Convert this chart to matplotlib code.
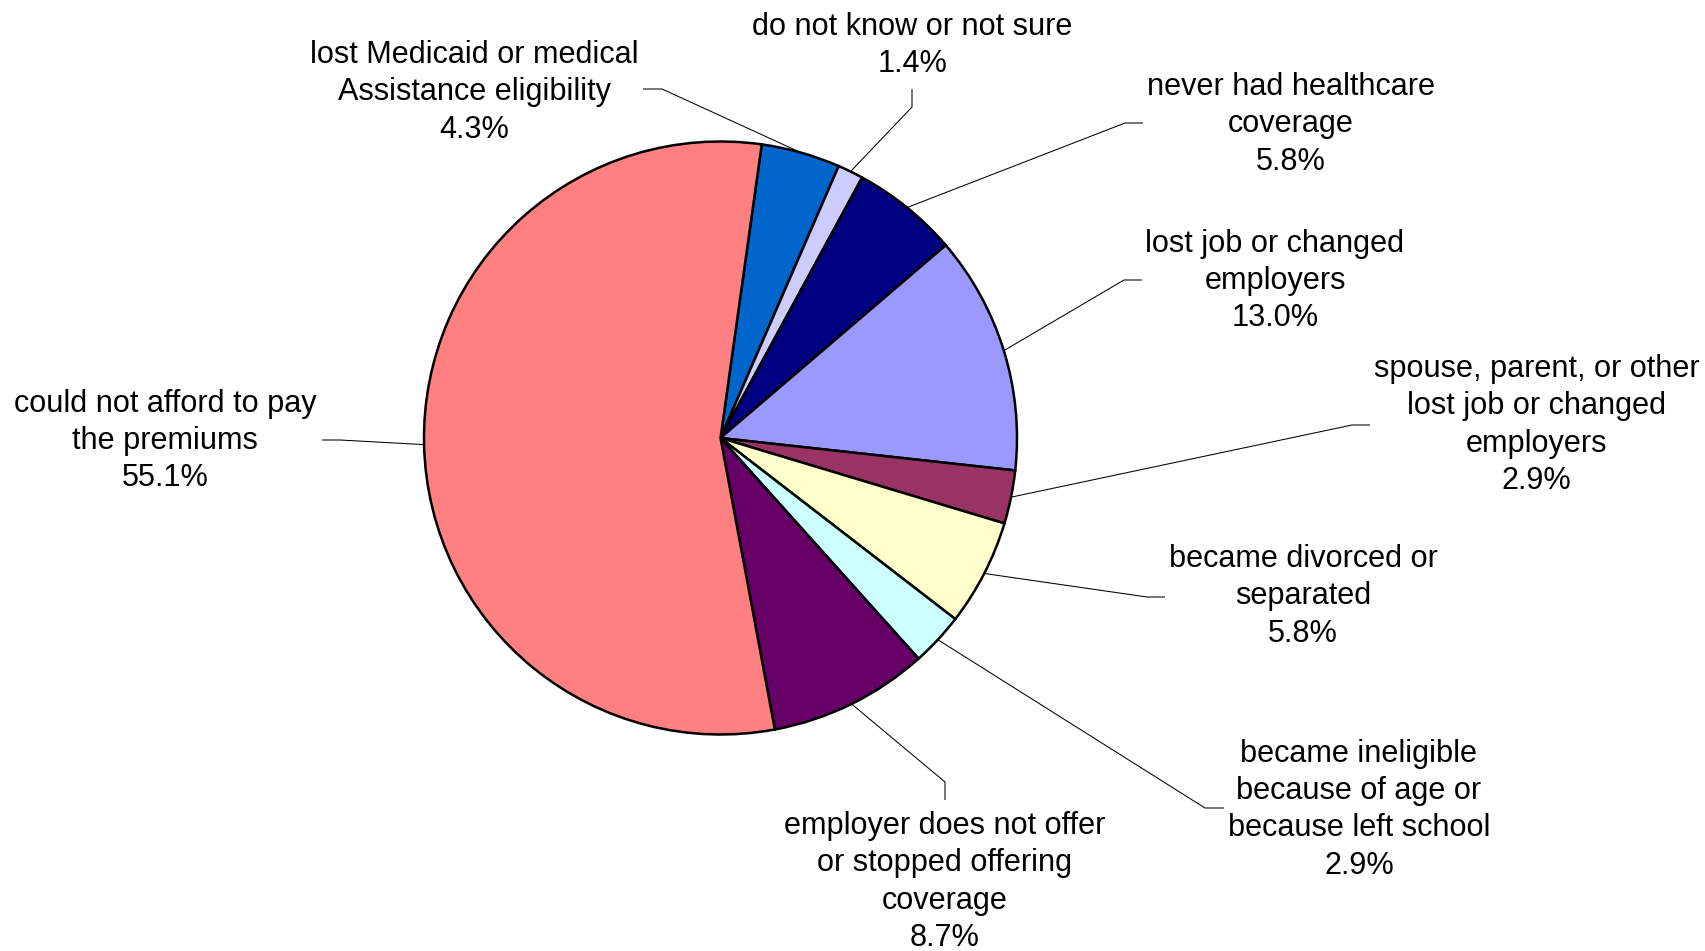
#!/usr/bin/env python3
import matplotlib

matplotlib.use("Agg")
import matplotlib.pyplot as plt
import numpy as np


CATEGORIES = [
    "lost Medicaid or medical\nAssistance eligibility",
    "do not know or not sure",
    "never had healthcare\ncoverage",
    "lost job or changed\nemployers",
    "spouse, parent, or other\nlost job or changed\nemployers",
    "became divorced or\nseparated",
    "became ineligible\nbecause of age or\nbecause left school",
    "employer does not offer\nor stopped offering\ncoverage",
    "could not afford to pay\nthe premiums",
]
PERCENTS = [4.3, 1.4, 5.8, 13.0, 2.9, 5.8, 2.9, 8.7, 55.1]
COLORS = [
    "#0066CC",
    "#CCCCFF",
    "#000080",
    "#9999FF",
    "#993366",
    "#FFFFCC",
    "#CCFFFF",
    "#660066",
    "#FF8080",
]

# Label layout in pixels, origin at top left: (text centre x, first baseline y)
LABEL_POS = [
    (474.5, 62.7),
    (912.5, 35.0),
    (1291.0, 95.0),
    (1275.0, 251.7),
    (1536.5, 377.0),
    (1303.0, 566.7),
    (1359.0, 761.7),
    (945.0, 834.0),
    (165.0, 411.7),
]
# Leader lines run wedge -> elbow -> end (the end sits next to the text)
LEADER_ELBOW = [
    (662, 89),
    (912, 107),
    (1125, 123),
    (1124, 280),
    (1352, 425),
    (1147, 597),
    (1205, 808),
    (945, 782),
    (340, 440),
]
LEADER_END = [
    (643, 89),
    (912, 89),
    (1143, 123),
    (1142, 280),
    (1370, 425),
    (1165, 597),
    (1224, 808),
    (945, 800),
    (322, 440),
]

WIDTH, HEIGHT = 1705, 951
CENTER = (720.5, 438.0)
RADIUS = 296.5
LINE_STEP = 37.4
FONT = ["Liberation Sans", "DejaVu Sans"]
FONT_SIZE = 22.1


def main() -> int:
    fig = plt.figure(figsize=(WIDTH / 100, HEIGHT / 100), dpi=100)
    ax = fig.add_axes([0, 0, 1, 1])

    # y axis is flipped so data units equal pixels from the top; with that,
    # counterclock=True turns clockwise on screen.
    wedges, _ = ax.pie(
        PERCENTS,
        colors=COLORS,
        center=CENTER,
        radius=RADIUS,
        startangle=-82,
        counterclock=True,
        wedgeprops={"edgecolor": "black", "linewidth": 1.8},
    )
    ax.set_xlim(0, WIDTH)
    ax.set_ylim(HEIGHT, 0)
    ax.set_aspect("equal")
    ax.axis("off")

    for i, wedge in enumerate(wedges):
        mid = np.deg2rad((wedge.theta1 + wedge.theta2) / 2.0)
        ax_x = CENTER[0] + RADIUS * np.cos(mid)
        ax_y = CENTER[1] + RADIUS * np.sin(mid)
        ex, ey = LEADER_ELBOW[i]
        tx, ty = LEADER_END[i]
        ax.plot([ax_x, ex, tx], [ax_y, ey, ty], color="black", linewidth=0.75,
                solid_capstyle="butt")

        lines = CATEGORIES[i].split("\n") + [f"{PERCENTS[i]:.1f}%"]
        cx, y0 = LABEL_POS[i]
        for j, line in enumerate(lines):
            ax.text(cx, y0 + j * LINE_STEP, line, ha="center", va="baseline",
                    fontsize=FONT_SIZE, family=FONT, color="black")

    fig.savefig("out.png", dpi=100)
    return 0


if __name__ == "__main__":
    raise SystemExit(main())
